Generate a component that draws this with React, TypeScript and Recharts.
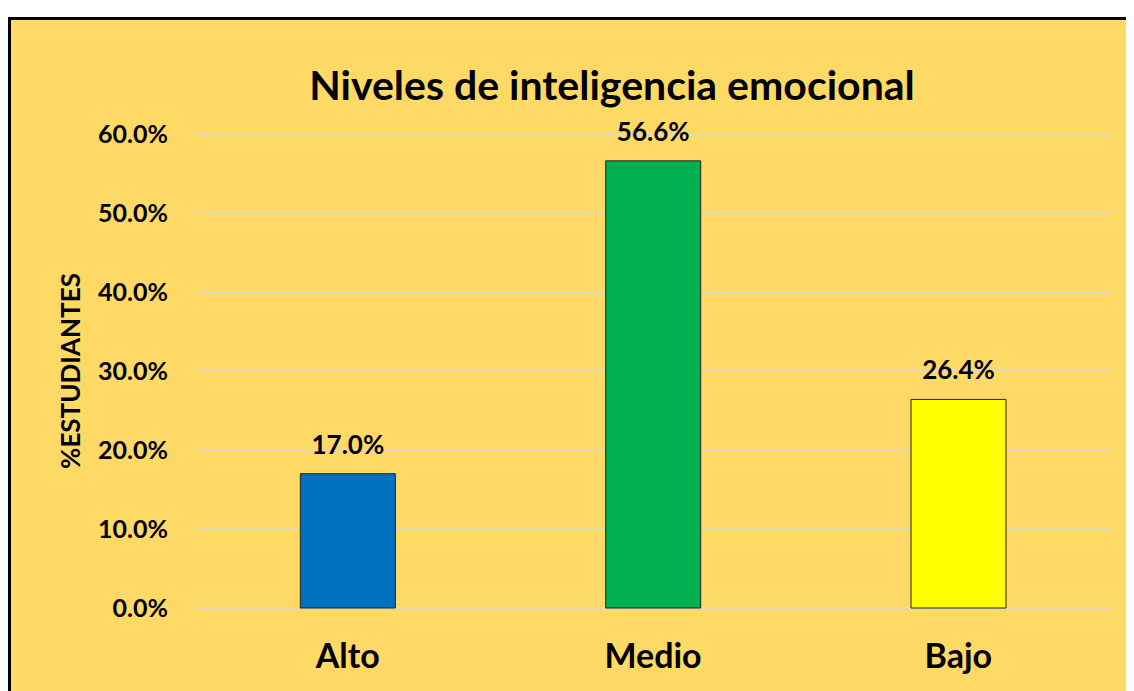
import React from 'react';
import { BarChart, Bar, XAxis, YAxis, CartesianGrid, Cell, LabelList, Label } from 'recharts';

const categories = ['Alto', 'Medio', 'Bajo'];
const percentages = [17.0, 56.6, 26.4];
const yTicks = [0, 10, 20, 30, 40, 50, 60];
const barColors = ['#0070C0', '#00B050', '#FFFF00'];

const chartData = categories.map((name, i) => ({ name, value: percentages[i] }));

const FONT = 'Lato, "Open Sans", sans-serif';

const YTitle = (props: any) => {
  const { viewBox } = props;
  const cx = viewBox.x + 62;
  const cy = viewBox.y + viewBox.height / 2;
  return (
    <text
      x={cx}
      y={cy}
      transform={`rotate(-90, ${cx}, ${cy})`}
      textAnchor="middle"
      dominantBaseline="central"
      fontFamily={FONT}
      fontWeight={700}
      fontSize={26}
      fill="#000"
    >
      %ESTUDIANTES
    </text>
  );
};

export default function App() {
  return (
    <div style={{ position: 'relative', width: 1126, height: 683, overflow: 'hidden' }}>
      <div
        style={{
          position: 'absolute',
          left: 0,
          top: 9,
          width: 1140,
          height: 700,
          background: '#FFD966',
          borderTop: '3px solid #000',
          borderLeft: '3px solid #000',
        }}
      />
      <div
        style={{
          position: 'absolute',
          left: 604,
          top: 54,
          transform: 'translateX(-50%)',
          whiteSpace: 'nowrap',
          fontFamily: FONT,
          fontWeight: 700,
          fontSize: 41,
          lineHeight: '46px',
          color: '#000',
        }}
      >
        Niveles de inteligencia emocional
      </div>
      <div style={{ position: 'absolute', left: 0, top: 0 }}>
        <BarChart
          width={1126}
          height={683}
          data={chartData}
          margin={{ top: 126, right: 23, bottom: 0, left: 0 }}
          barCategoryGap="34.5%"
        >
          <CartesianGrid vertical={false} stroke="#D9D9D9" strokeWidth={1.5} />
          <XAxis
            dataKey="name"
            height={83}
            axisLine={false}
            tickLine={false}
            tickMargin={30}
            tick={{ fill: '#000', fontFamily: FONT, fontWeight: 700, fontSize: 34 }}
          />
          <YAxis
            width={187}
            domain={[0, 60]}
            ticks={yTicks}
            axisLine={false}
            tickLine={false}
            tickMargin={21}
            tickFormatter={(v: number) => `${v.toFixed(1)}%`}
            tick={{ fill: '#000', fontFamily: FONT, fontWeight: 700, fontSize: 25 }}
          >
            <Label content={<YTitle />} />
          </YAxis>
          <Bar dataKey="value" stroke="#222" strokeWidth={1} isAnimationActive={false}>
            {chartData.map((d, i) => (
              <Cell key={d.name} fill={barColors[i]} />
            ))}
            <LabelList
              dataKey="value"
              position="top"
              offset={20}
              formatter={(v: any) => `${Number(v).toFixed(1)}%`}
              style={{ fill: '#000', fontFamily: FONT, fontWeight: 700, fontSize: 26 }}
            />
          </Bar>
        </BarChart>
      </div>
    </div>
  );
}
